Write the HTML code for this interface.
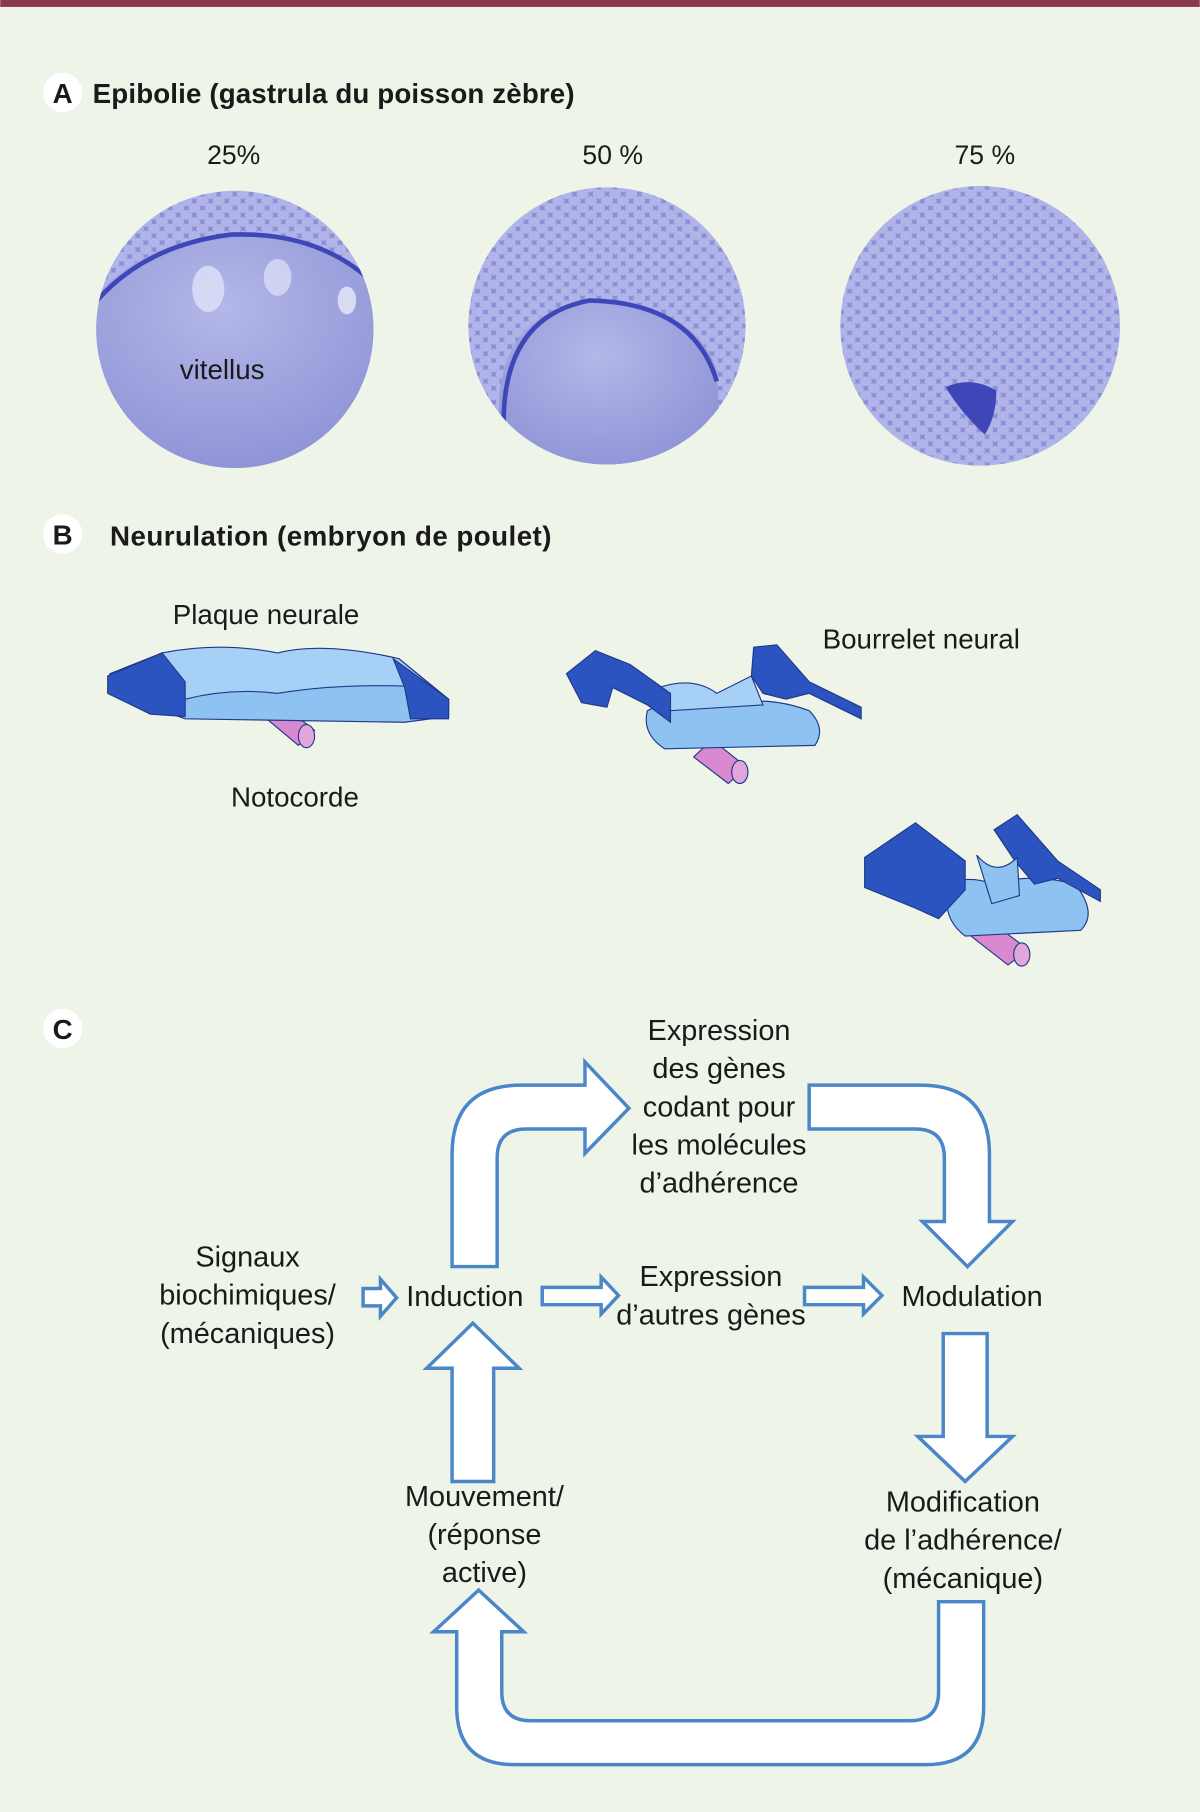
<!DOCTYPE html>
<html><head><meta charset="utf-8"><style>
html,body{margin:0;padding:0;background:#eef5e8;}
svg{display:block}
text{font-family:"Liberation Sans Narrow","Liberation Sans",sans-serif;fill:#1a1a1a}
</style></head><body>
<svg width="1200" height="1812" viewBox="0 0 1038 1568" xmlns="http://www.w3.org/2000/svg">
<defs>
<pattern id="cells" width="14" height="12" patternUnits="userSpaceOnUse">
<rect width="14" height="12" fill="#8a8fd6"/>
<ellipse cx="7" cy="6" rx="5.2" ry="4.3" fill="#b0b4e8"/>
<ellipse cx="0" cy="0" rx="5.2" ry="4.3" fill="#b0b4e8"/>
<ellipse cx="14" cy="0" rx="5.2" ry="4.3" fill="#b0b4e8"/>
<ellipse cx="0" cy="12" rx="5.2" ry="4.3" fill="#b0b4e8"/>
<ellipse cx="14" cy="12" rx="5.2" ry="4.3" fill="#b0b4e8"/>
</pattern>
<radialGradient id="yolk" cx="0.45" cy="0.3" r="0.8">
<stop offset="0" stop-color="#b4b7e8"/><stop offset="1" stop-color="#868bd2"/>
</radialGradient>
<clipPath id="c1"><circle cx="203" cy="285" r="120"/></clipPath>
<clipPath id="c2"><circle cx="525" cy="282" r="120"/></clipPath>
</defs>
<rect width="1038" height="1568" fill="#eef5e8"/>
<rect width="1038" height="6" fill="#8b3a4a"/>

<circle cx="54" cy="80" r="17" fill="#fff"/>
<text x="54" y="89" font-size="24" font-weight="bold" text-anchor="middle">A</text>
<text x="80" y="89" font-size="24" font-weight="bold" textLength="417">Epibolie (gastrula du poisson zèbre)</text>
<text x="202" y="142" font-size="23" text-anchor="middle">25%</text>
<text x="530" y="142" font-size="23" text-anchor="middle">50 %</text>
<text x="852" y="142" font-size="23" text-anchor="middle">75 %</text>

<g clip-path="url(#c1)">
<circle cx="203" cy="285" r="120" fill="url(#cells)"/>
<path d="M80 260 Q120 210 200 202 Q280 200 330 250 L340 420 L70 420 Z" fill="url(#yolk)"/>
<path d="M82 262 Q125 212 200 203 Q280 200 328 250" fill="none" stroke="#3f47b8" stroke-width="4"/>
<ellipse cx="180" cy="250" rx="14" ry="20" fill="#e0e2f7" opacity="0.8"/>
<ellipse cx="240" cy="240" rx="12" ry="16" fill="#e0e2f7" opacity="0.7"/>
<ellipse cx="300" cy="260" rx="8" ry="12" fill="#e8e9f9" opacity="0.8"/>
</g>
<text x="192" y="328" font-size="24" text-anchor="middle">vitellus</text>
<g clip-path="url(#c2)">
<circle cx="525" cy="282" r="120" fill="url(#cells)"/>
<path d="M432 340 Q440 270 510 260 Q600 262 620 320 L625 420 L430 420 Z" fill="url(#yolk)"/>
<path d="M436 380 Q430 275 510 260 Q600 262 620 330" fill="none" stroke="#3f47b8" stroke-width="4"/>
</g>
<circle cx="848" cy="282" r="121" fill="url(#cells)"/>
<path d="M818 335 Q840 325 862 338 Q862 360 852 376 Q832 358 818 335 Z" fill="#3f47b8"/>

<circle cx="54" cy="462" r="17" fill="#fff"/>
<text x="54" y="471" font-size="24" font-weight="bold" text-anchor="middle">B</text>
<text x="95" y="472" font-size="24" font-weight="bold" textLength="382">Neurulation (embryon de poulet)</text>
<text x="230" y="540" font-size="24" text-anchor="middle">Plaque neurale</text>
<text x="255" y="698" font-size="24" text-anchor="middle">Notocorde</text>
<text x="797" y="561" font-size="24" text-anchor="middle">Bourrelet neural</text>

<g stroke="#1f3a8a" stroke-width="1">
<path d="M228 620 L258 645 L272 632 L244 610 Z" fill="#d889cf"/>
<ellipse cx="265" cy="637" rx="7" ry="10" fill="#e3a6dc"/>
<path d="M95 583 L140 565 L345 570 L388 605 L388 620 L350 625 L160 622 L93 598 Z" fill="#8ec2f0"/>
<path d="M140 565 Q190 555 240 565 Q280 555 345 570 L375 595 Q300 590 240 600 Q200 595 160 605 Z" fill="#a6d0f5"/>
<path d="M93 585 L140 565 L160 590 L160 620 L130 618 L93 600 Z" fill="#2c54c0"/>
<path d="M340 570 L388 605 L388 622 L355 622 L350 595 Z" fill="#2c54c0"/>
</g>
<g stroke="#1f3a8a" stroke-width="1">
<path d="M600 655 L630 678 L646 664 L616 640 Z" fill="#d889cf"/>
<ellipse cx="640" cy="668" rx="7" ry="10" fill="#e3a6dc"/>
<path d="M560 615 Q590 600 620 612 Q660 600 700 615 Q715 630 705 645 L575 648 Q555 635 560 615 Z" fill="#8ec2f0"/>
<path d="M570 595 Q600 585 620 600 L650 585 L660 610 L580 615 Z" fill="#a6d0f5"/>
<path d="M490 583 L515 563 L545 575 L580 600 L580 625 L560 610 L530 595 L525 612 L503 608 Z" fill="#2c54c0"/>
<path d="M652 560 L672 558 L700 590 L745 612 L745 622 L700 600 L680 605 L660 600 L650 585 Z" fill="#2c54c0"/>
</g>
<g stroke="#1f3a8a" stroke-width="1">
<path d="M840 810 L872 835 L890 822 L858 798 Z" fill="#d889cf"/>
<ellipse cx="884" cy="826" rx="7" ry="10" fill="#e3a6dc"/>
<path d="M820 770 Q830 755 860 765 Q890 755 930 765 Q950 790 935 805 L835 810 Q815 795 820 770 Z" fill="#8ec2f0"/>
<path d="M748 742 L792 712 L835 745 L835 770 L812 795 L790 785 L748 768 Z" fill="#2c54c0"/>
<path d="M860 718 L880 705 L915 745 L952 770 L952 780 L915 760 L895 765 L878 745 Z" fill="#2c54c0"/>
<path d="M845 740 Q862 760 880 742 L882 775 L858 782 Z" fill="#8ec2f0"/>
</g>

<circle cx="54" cy="890" r="17" fill="#fff"/>
<text x="54" y="899" font-size="24" font-weight="bold" text-anchor="middle">C</text>

<g fill="#fff" stroke="#4a86c8" stroke-width="3" stroke-linejoin="miter">
<path d="M391 1096 L391 999 Q391 939 451 939 L506 939 L506 919 L544 959 L506 998 L506 977 L455 977 Q430 977 430 1002 L430 1096 Z"/>
<path d="M700 939 L796 939 Q856 939 856 999 L856 1057 L876 1057 L837 1096 L798 1057 L817 1057 L817 1002 Q817 977 792 977 L700 977 Z"/>
<path d="M314 1115 L329 1115 L329 1107 L343 1123 L329 1139 L329 1130 L314 1130 Z"/>
<path d="M469 1114 L520 1114 L520 1105 L535 1121 L520 1137 L520 1129 L469 1129 Z"/>
<path d="M696 1114 L747 1114 L747 1105 L763 1121 L747 1137 L747 1129 L696 1129 Z"/>
<path d="M816 1154 L854 1154 L854 1243 L876 1243 L835 1282 L794 1243 L816 1243 Z"/>
<path d="M391 1282 L427 1282 L427 1184 L449 1184 L409 1145 L369 1184 L391 1184 Z"/>
<path d="M812 1386 L851 1386 L851 1477 Q851 1527 801 1527 L445 1527 Q395 1527 395 1477 L395 1412 L375 1412 L414 1376 L453 1412 L434 1412 L434 1464 Q434 1489 459 1489 L787 1489 Q812 1489 812 1464 Z"/>
</g>

<g font-size="25" text-anchor="middle">
<text x="622" y="900">Expression</text>
<text x="622" y="933">des gènes</text>
<text x="622" y="966">codant pour</text>
<text x="622" y="999">les molécules</text>
<text x="622" y="1032">d’adhérence</text>
<text x="214" y="1096">Signaux</text>
<text x="214" y="1129">biochimiques/</text>
<text x="214" y="1162">(mécaniques)</text>
<text x="402" y="1130">Induction</text>
<text x="615" y="1113">Expression</text>
<text x="615" y="1146">d’autres gènes</text>
<text x="841" y="1130">Modulation</text>
<text x="419" y="1303">Mouvement/</text>
<text x="419" y="1336">(réponse</text>
<text x="419" y="1369">active)</text>
<text x="833" y="1308">Modification</text>
<text x="833" y="1341">de l’adhérence/</text>
<text x="833" y="1374">(mécanique)</text>
</g>
</svg>
</body></html>
